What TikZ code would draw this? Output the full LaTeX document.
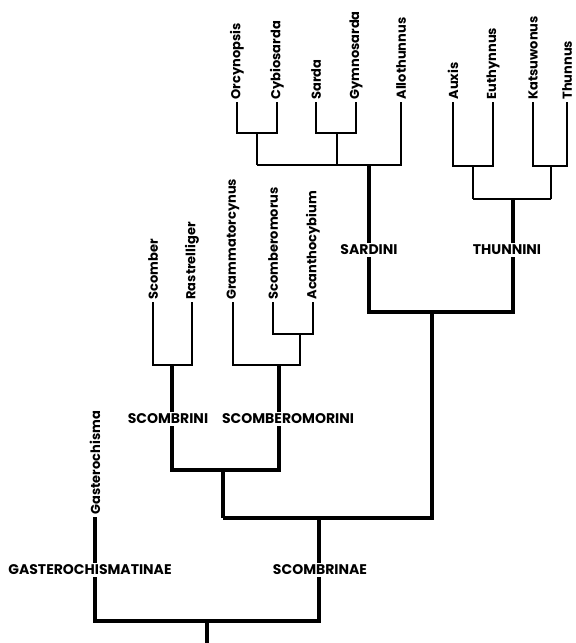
\documentclass[tikz,border=0pt]{standalone}
\usepackage{fontspec}
\newfontfamily\labfont{Poppins}
\begin{document}
\begin{tikzpicture}[x=1pt,y=-1pt,
  leaf/.style={rotate=90, anchor=west, inner sep=2.5pt, outer sep=0pt,
    font=\labfont\bfseries\fontsize{13}{13}\selectfont},
  tribe/.style={inner sep=2pt, outer sep=0pt,
    font=\labfont\bfseries\fontsize{14}{14}\selectfont},
  twig/.style={line width=1.6pt},
  stem/.style={line width=4pt}]
\useasboundingbox (0,0) rectangle (576,643);
% leaves
\node[leaf] (orc) at (237,102) {Orcynopsis};
\node[leaf] (cyb) at (277,102) {Cybiosarda};
\node[leaf] (sar) at (316,102) {Sarda};
\node[leaf] (gym) at (356,102) {Gymnosarda};
\node[leaf] (all) at (401,102) {Allothunnus};
\node[leaf] (aux) at (453,102) {Auxis};
\node[leaf] (eut) at (493,102) {Euthynnus};
\node[leaf] (kat) at (533,102) {Katsuwonus};
\node[leaf] (thu) at (567,102) {Thunnus};
\node[leaf] (sco) at (153,302) {Scomber};
\node[leaf] (ras) at (192,302) {Rastrelliger};
\node[leaf] (gra) at (233,302) {Grammatorcynus};
\node[leaf] (scm) at (273,302) {Scomberomorus};
\node[leaf] (aca) at (313,302) {Acanthocybium};
\node[leaf] (gas) at (95,517) {Gasterochisma};
% group labels
\node[tribe] (sardini) at (369,250) {SARDINI};
\node[tribe] (thunnini) at (507,250) {THUNNINI};
\node[tribe] (scombrini) at (168,419) {SCOMBRINI};
\node[tribe] (scomberomorini) at (288,419) {SCOMBEROMORINI};
\node[tribe] (gasteroch) at (90,570) {GASTEROCHISMATINAE};
\node[tribe] (scombrinae) at (320,570) {SCOMBRINAE};
% junctions
\coordinate (oc) at (257,133);
\coordinate (oc2) at (257,165);
\coordinate (sg) at (337,133);
\coordinate (sg2) at (337,165);
\coordinate (sd) at (369,165);
\coordinate (ae) at (473,166);
\coordinate (ae2) at (473,199);
\coordinate (kt) at (551,166);
\coordinate (kt2) at (551,199);
\coordinate (th) at (513,199);
\coordinate (st) at (432,312);
\coordinate (sr) at (172,365);
\coordinate (gs) at (300,334);
\coordinate (gs2) at (300,365);
\coordinate (sm) at (279,365);
\coordinate (sc) at (223,470);
\coordinate (sc2) at (223,518);
\coordinate (sb) at (319,518);
\coordinate (root) at (207,621);
\coordinate (rootend) at (207,645);
% Sardini
\draw[twig] (orc.west) |- (oc) -| (cyb.west);
\draw[twig] (oc) -- (oc2);
\draw[twig] (sar.west) |- (sg) -| (gym.west);
\draw[twig] (sg) -- (sg2);
\draw[twig] (oc2) -| (all.west);
\draw[stem] (sd) -- (sardini.north -| sd);
% Thunnini
\draw[twig] (aux.west) |- (ae) -| (eut.west);
\draw[twig] (ae) -- (ae2);
\draw[twig] (kat.west) |- (kt) -| (thu.west);
\draw[twig] (kt) -- (kt2);
\draw[twig] (ae2) -- (kt2);
\draw[stem] (th) -- (thunnini.north -| th);
\draw[stem] (sardini.south -| sd) |- (st) -| (thunnini.south -| th);
% Scombrini / Scomberomorini
\draw[twig] (sco.west) |- (sr) -| (ras.west);
\draw[stem] (sr) -- (scombrini.north -| sr);
\draw[twig] (scm.west) |- (gs) -| (aca.west);
\draw[twig] (gra.west) |- (gs2) -- (gs);
\draw[stem] (sm) -- (scomberomorini.north -| sm);
\draw[stem] (scombrini.south -| sr) |- (sc) -| (scomberomorini.south -| sm);
\draw[stem] (st) |- (sc2);
\draw[stem] (sc2) -- (sc);
% subfamilies
\draw[stem] (sb) -- (scombrinae.north -| sb);
\draw[stem] (gas.west) -- (gasteroch.north -| gas.west);
\draw[stem] (gasteroch.south -| gas.west) |- (root) -| (scombrinae.south -| sb);
\draw[stem] (root) -- (rootend);
\end{tikzpicture}
\end{document}
